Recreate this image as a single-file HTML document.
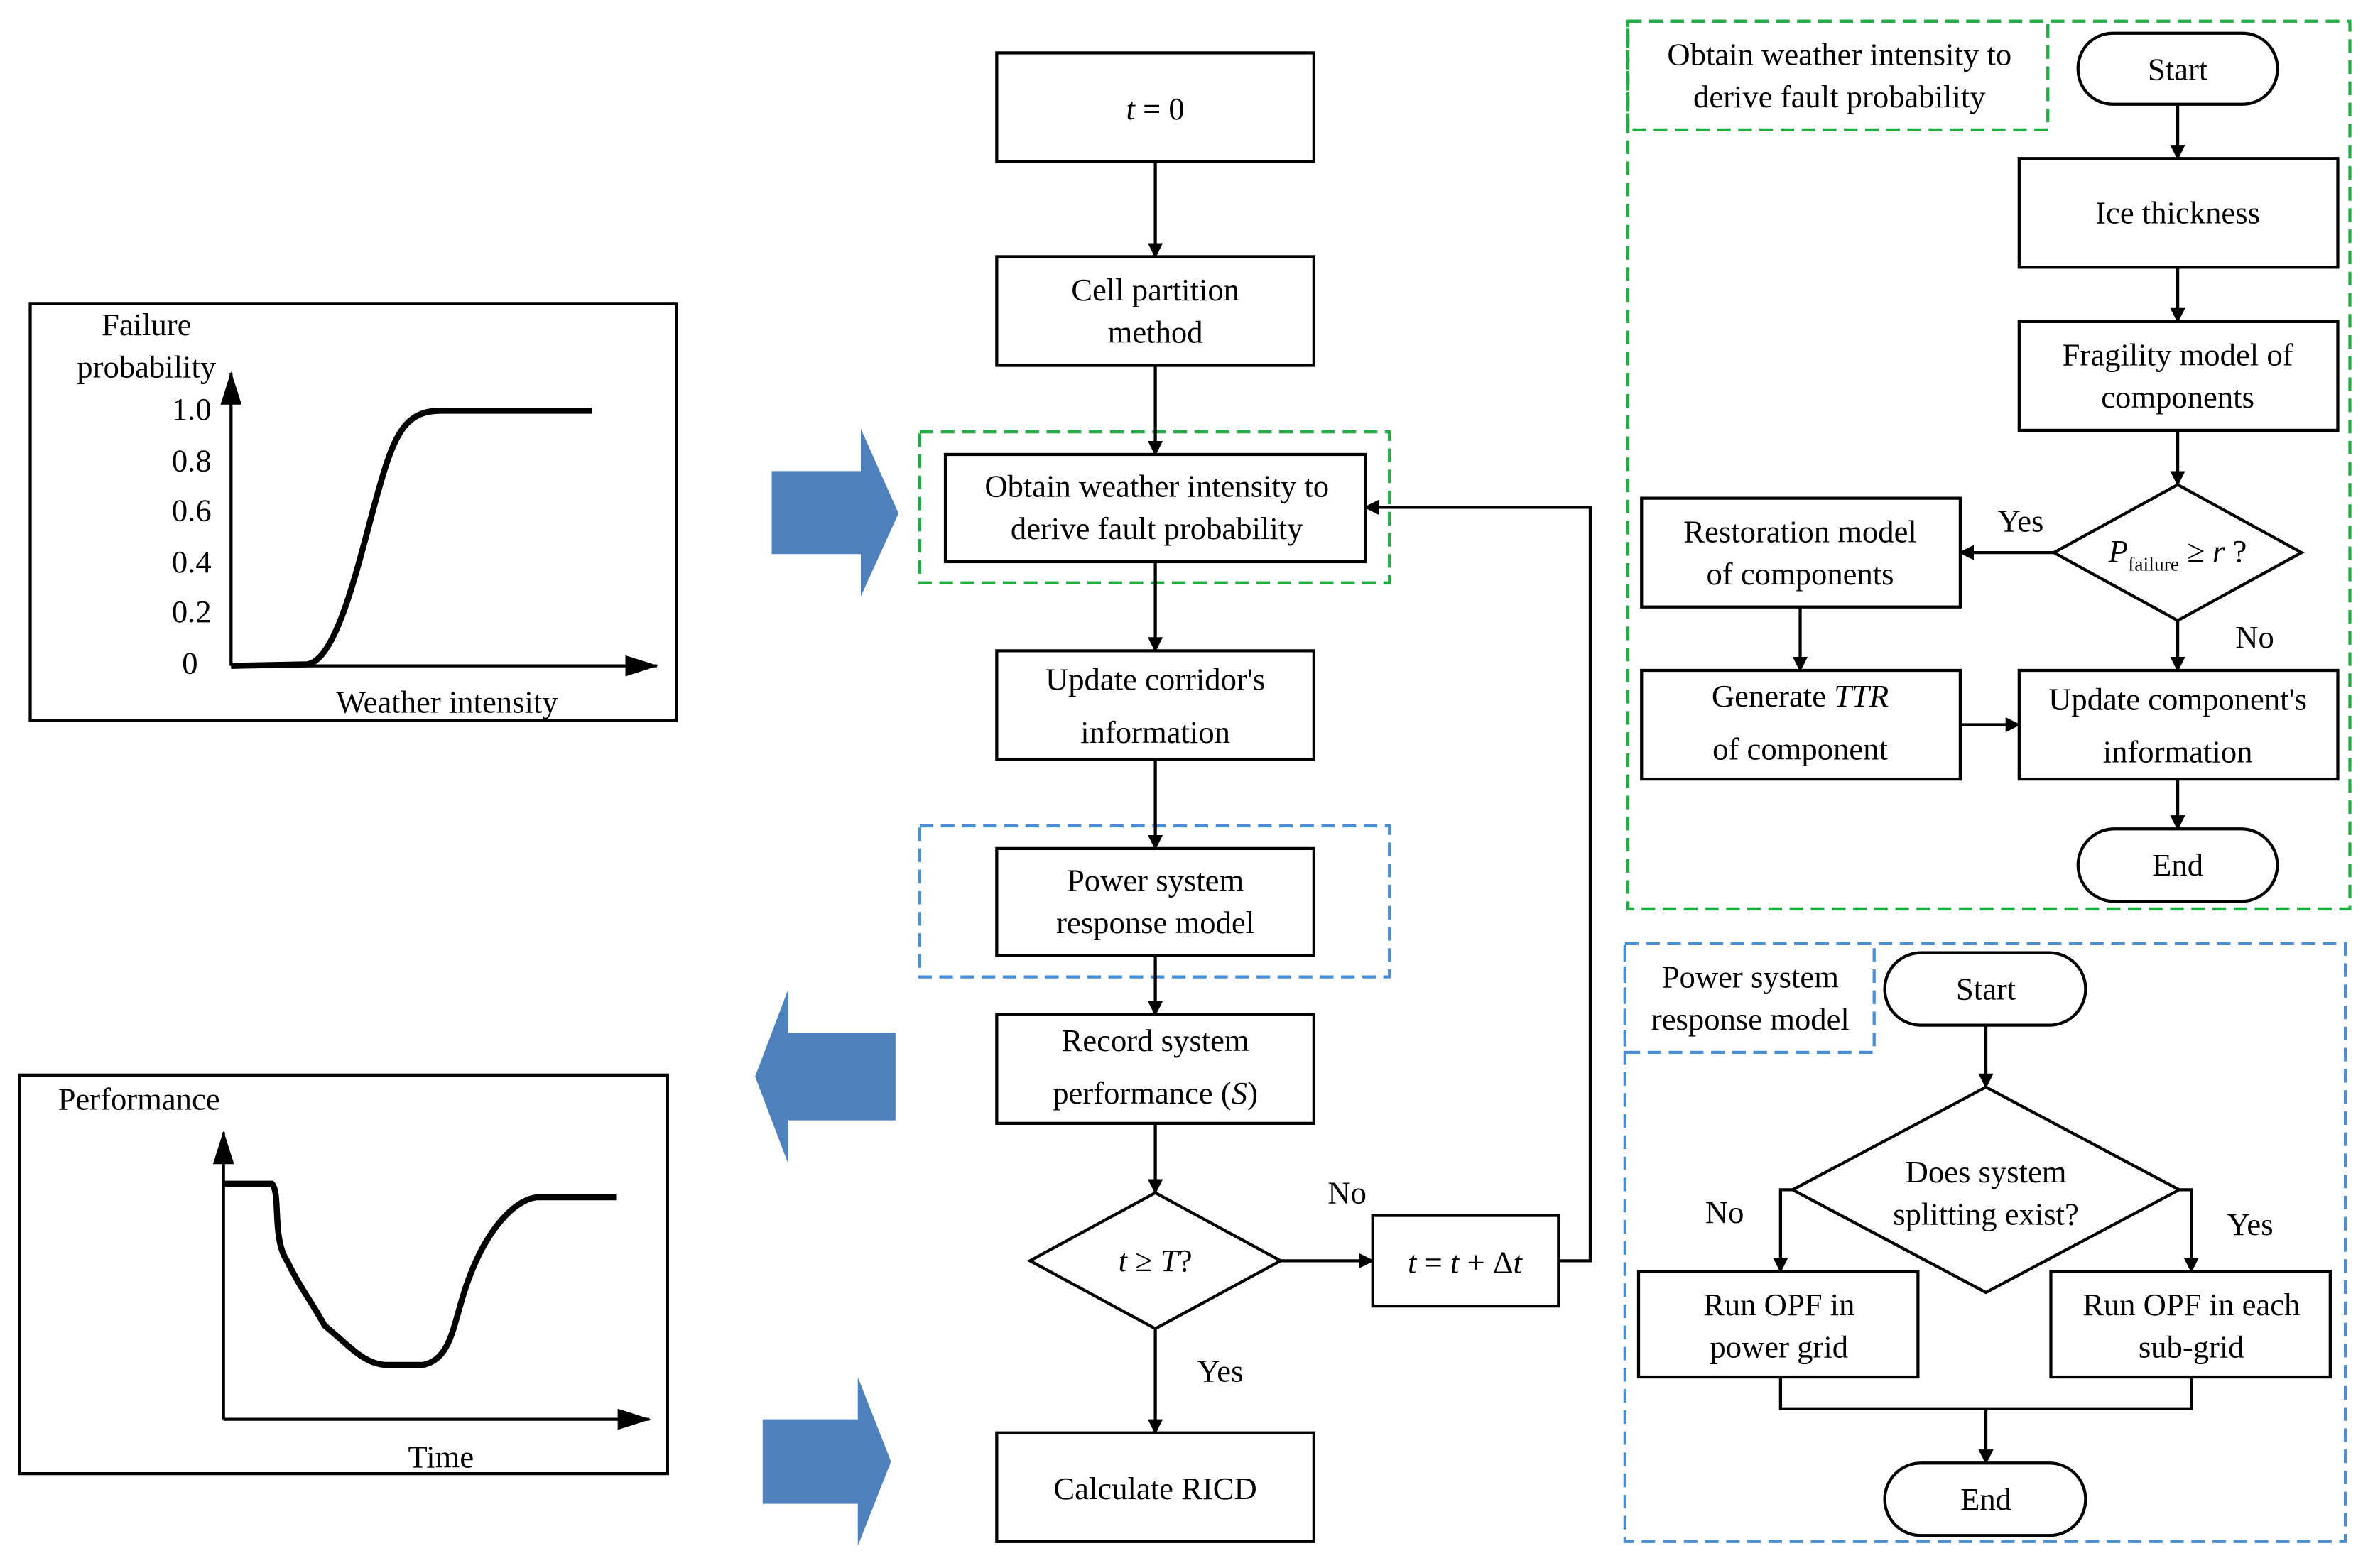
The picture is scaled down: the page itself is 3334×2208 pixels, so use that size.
<!DOCTYPE html>
<html><head><meta charset="utf-8"><style>
html,body{margin:0;padding:0;background:#fff;}
svg{display:block;}
text{font-family:"Liberation Serif",serif;font-size:21px;fill:#000;}
</style></head><body>
<svg width="3334" height="2208" viewBox="0 0 1568 1038.5" preserveAspectRatio="none" xmlns="http://www.w3.org/2000/svg">
<defs>
<marker id="a" markerWidth="10" markerHeight="10" refX="9" refY="5" orient="auto" markerUnits="userSpaceOnUse"><path d="M0,0 L10,5 L0,10 z" fill="#000"/></marker>
<marker id="b" markerWidth="22" markerHeight="14" refX="21" refY="7" orient="auto" markerUnits="userSpaceOnUse"><path d="M0,0 L22,7 L0,14 z" fill="#000"/></marker>
</defs>
<g fill="none" stroke="#000" stroke-width="2">
<!-- chart 1 -->
<rect x="20" y="201" width="428" height="276"/>
<line x1="153" y1="441" x2="153" y2="247" marker-end="url(#b)"/>
<line x1="153" y1="441" x2="435" y2="441" marker-end="url(#b)"/>
<path d="M153,441 L203,440 C225,438 240,360 252,320 C262,285 270,272 292,272 L392,272" stroke-width="4"/>
<!-- chart 2 -->
<rect x="13" y="712" width="429" height="264"/>
<line x1="148" y1="940" x2="148" y2="750" marker-end="url(#b)"/>
<line x1="148" y1="940" x2="430" y2="940" marker-end="url(#b)"/>
<path d="M148,784 L180,784 C186,790 180,820 190,835 C200,855 205,860 215,878 C230,890 240,903 255,904 L280,904 C300,900 300,875 310,848 C322,815 340,795 355,793 L408,793" stroke-width="4"/>
</g>
<g>
<text x="97" y="222" text-anchor="middle">Failure</text>
<text x="97" y="250" text-anchor="middle">probability</text>
<g text-anchor="end">
<text x="140" y="278">1.0</text><text x="140" y="312">0.8</text><text x="140" y="345">0.6</text>
<text x="140" y="379">0.4</text><text x="140" y="412">0.2</text><text x="131" y="446">0</text>
</g>
<text x="296" y="472" text-anchor="middle">Weather intensity</text>
<text x="92" y="735" text-anchor="middle">Performance</text>
<text x="292" y="972" text-anchor="middle">Time</text>
</g>
<!-- big arrows -->
<g fill="#4f81bd">
<path d="M511,312 L570,312 L570,284 L595,340 L570,395 L570,367 L511,367 z"/>
<path d="M593,684 L522,684 L522,655 L500,713 L522,771 L522,742 L593,742 z"/>
<path d="M505,940 L568,940 L568,912 L590,968 L568,1024 L568,996 L505,996 z"/>
</g>
<!-- dashed boxes -->
<g fill="none" stroke-width="2" stroke-dasharray="9,5">
<rect x="609" y="286" width="311" height="100" stroke="#22aa44"/>
<rect x="609" y="547" width="311" height="100" stroke="#4a8fd6"/>
<rect x="1078" y="14" width="478" height="588" stroke="#22aa44"/>
<rect x="1078" y="14" width="278" height="72" stroke="#22aa44"/>
<rect x="1076" y="625" width="477" height="396" stroke="#4a8fd6"/>
<rect x="1076" y="625" width="165" height="72" stroke="#4a8fd6"/>
</g>
<!-- center flow -->
<g fill="#fff" stroke="#000" stroke-width="2">
<rect x="660" y="35" width="210" height="72"/>
<rect x="660" y="170" width="210" height="72"/>
<rect x="626" y="301" width="278" height="71"/>
<rect x="660" y="431" width="210" height="72"/>
<rect x="660" y="562" width="210" height="71"/>
<rect x="660" y="672" width="210" height="72"/>
<path d="M682,835 L765,790 L848,835 L765,880 z"/>
<rect x="909" y="805" width="123" height="60"/>
<rect x="660" y="949" width="210" height="72"/>
<!-- right top -->
<rect x="1376" y="22" width="132" height="47" rx="23"/>
<rect x="1337" y="105" width="211" height="72"/>
<rect x="1337" y="213" width="211" height="72"/>
<path d="M1360,366 L1442,321 L1524,366 L1442,411 z"/>
<rect x="1087" y="330" width="211" height="72"/>
<rect x="1087" y="444" width="211" height="72"/>
<rect x="1337" y="444" width="211" height="72"/>
<rect x="1376" y="549" width="132" height="48" rx="24"/>
<!-- right bottom -->
<rect x="1248" y="631" width="133" height="48" rx="24"/>
<path d="M1187,788 L1315,720 L1443,788 L1315,856 z"/>
<rect x="1085" y="842" width="185" height="70"/>
<rect x="1358" y="842" width="185" height="70"/>
<rect x="1248" y="969" width="133" height="48" rx="24"/>
</g>
<g fill="none" stroke="#000" stroke-width="2">
<line x1="765" y1="107" x2="765" y2="170" marker-end="url(#a)"/>
<line x1="765" y1="242" x2="765" y2="301" marker-end="url(#a)"/>
<line x1="765" y1="372" x2="765" y2="431" marker-end="url(#a)"/>
<line x1="765" y1="503" x2="765" y2="562" marker-end="url(#a)"/>
<line x1="765" y1="633" x2="765" y2="672" marker-end="url(#a)"/>
<line x1="765" y1="744" x2="765" y2="790" marker-end="url(#a)"/>
<line x1="765" y1="880" x2="765" y2="949" marker-end="url(#a)"/>
<line x1="848" y1="835" x2="909" y2="835" marker-end="url(#a)"/>
<polyline points="1032,835 1053,835 1053,336 904,336" marker-end="url(#a)"/>
<line x1="1442" y1="69" x2="1442" y2="105" marker-end="url(#a)"/>
<line x1="1442" y1="177" x2="1442" y2="213" marker-end="url(#a)"/>
<line x1="1442" y1="285" x2="1442" y2="321" marker-end="url(#a)"/>
<line x1="1360" y1="366" x2="1298" y2="366" marker-end="url(#a)"/>
<line x1="1442" y1="411" x2="1442" y2="444" marker-end="url(#a)"/>
<line x1="1192" y1="402" x2="1192" y2="444" marker-end="url(#a)"/>
<line x1="1298" y1="480" x2="1337" y2="480" marker-end="url(#a)"/>
<line x1="1442" y1="516" x2="1442" y2="549" marker-end="url(#a)"/>
<line x1="1315" y1="679" x2="1315" y2="720" marker-end="url(#a)"/>
<polyline points="1187,788 1179,788 1179,842" marker-end="url(#a)"/>
<polyline points="1443,788 1451,788 1451,842" marker-end="url(#a)"/>
<polyline points="1179,912 1179,933 1451,933 1451,912"/>
<line x1="1315" y1="933" x2="1315" y2="969" marker-end="url(#a)"/>
</g>
<g text-anchor="middle">
<text x="765" y="79"><tspan font-style="italic">t</tspan> = 0</text>
<text x="765" y="199">Cell partition</text><text x="765" y="227">method</text>
<text x="766" y="329">Obtain weather intensity to</text><text x="766" y="357">derive fault probability</text>
<text x="765" y="457" font-size="23">Update corridor's</text><text x="765" y="492" font-size="23">information</text>
<text x="765" y="590">Power system</text><text x="765" y="618">response model</text>
<text x="765" y="696" font-size="23">Record system</text><text x="765" y="731" font-size="23">performance (<tspan font-style="italic">S</tspan>)</text>
<text x="765" y="842"><tspan font-style="italic">t</tspan> ≥ <tspan font-style="italic">T</tspan>?</text>
<text x="970" y="843"><tspan font-style="italic">t</tspan> = <tspan font-style="italic">t</tspan> + Δ<tspan font-style="italic">t</tspan></text>
<text x="892" y="797">No</text><text x="808" y="915">Yes</text>
<text x="765" y="993">Calculate RICD</text>
<text x="1218" y="43">Obtain weather intensity to</text><text x="1218" y="71">derive fault probability</text>
<text x="1442" y="53">Start</text>
<text x="1442" y="148">Ice thickness</text>
<text x="1442" y="242">Fragility model of</text><text x="1442" y="270">components</text>
<text x="1442" y="372" font-style="italic">P<tspan font-size="13" font-style="normal" dy="6">failure</tspan><tspan dy="-6" font-style="normal"> ≥ </tspan>r<tspan font-style="normal"> ?</tspan></text>
<text x="1192" y="359">Restoration model</text><text x="1192" y="387">of components</text>
<text x="1192" y="468" font-size="23">Generate <tspan font-style="italic">TTR</tspan></text><text x="1192" y="503" font-size="23">of component</text>
<text x="1442" y="470" font-size="23">Update component's</text><text x="1442" y="505" font-size="23">information</text>
<text x="1442" y="580">End</text>
<text x="1338" y="352">Yes</text><text x="1493" y="429">No</text>
<text x="1159" y="654">Power system</text><text x="1159" y="682">response model</text>
<text x="1315" y="662">Start</text>
<text x="1315" y="783">Does system</text><text x="1315" y="811">splitting exist?</text>
<text x="1142" y="810">No</text><text x="1490" y="818">Yes</text>
<text x="1178" y="871">Run OPF in</text><text x="1178" y="899">power grid</text>
<text x="1451" y="871">Run OPF in each</text><text x="1451" y="899">sub-grid</text>
<text x="1315" y="1000">End</text>
</g>
</svg>
</body></html>
